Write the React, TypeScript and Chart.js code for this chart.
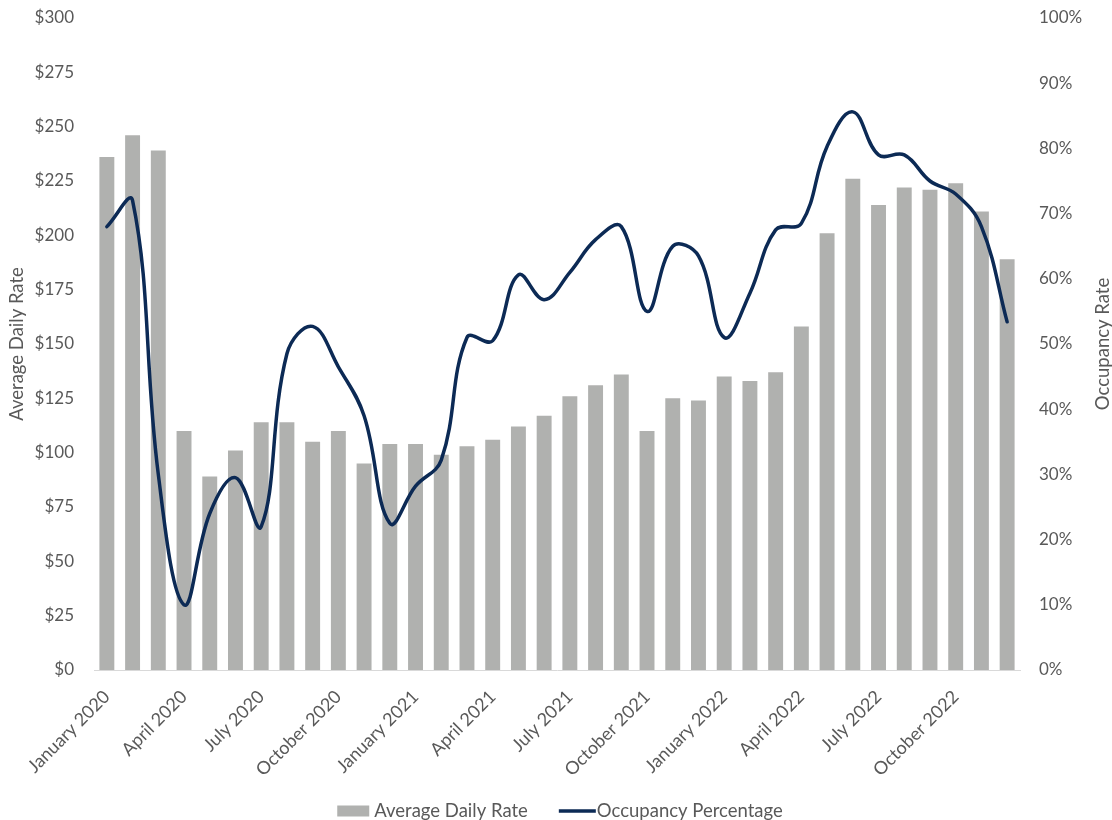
import React, { useEffect, useRef } from 'react';
import { Chart, registerables } from 'chart.js';

Chart.register(...registerables);

const CATEGORIES = [
  'January 2020', 'February 2020', 'March 2020', 'April 2020', 'May 2020', 'June 2020',
  'July 2020', 'August 2020', 'September 2020', 'October 2020', 'November 2020', 'December 2020',
  'January 2021', 'February 2021', 'March 2021', 'April 2021', 'May 2021', 'June 2021',
  'July 2021', 'August 2021', 'September 2021', 'October 2021', 'November 2021', 'December 2021',
  'January 2022', 'February 2022', 'March 2022', 'April 2022', 'May 2022', 'June 2022',
  'July 2022', 'August 2022', 'September 2022', 'October 2022', 'November 2022', 'December 2022',
];

const AVERAGE_DAILY_RATE = [
  236, 246, 239, 110, 89, 101, 114, 114, 105, 110, 95, 104,
  104, 99, 103, 106, 112, 117, 126, 131, 136, 110, 125, 124,
  135, 133, 137, 158, 201, 226, 214, 222, 221, 224, 211, 189,
];

const OCCUPANCY_PERCENTAGE = [
  68, 72, 30, 10, 24, 29.5, 22, 48.5, 52.7, 46.5, 39, 22.5,
  28.2, 32.2, 51, 50.5, 60.6, 56.8, 61, 66, 68, 55, 65, 63.5,
  51, 57.8, 67.5, 68.5, 80.3, 85.6, 79, 79, 75, 73, 68, 53.4,
];

const ADR_AXIS = { min: 0, max: 300, step: 25 };
const OCC_AXIS = { min: 0, max: 100, step: 10 };

const LEFT_TITLE = 'Average Daily Rate';
const RIGHT_TITLE = 'Occupancy Rate';
const BAR_LABEL = 'Average Daily Rate';
const LINE_LABEL = 'Occupancy Percentage';

const FONT = "Lato, 'Open Sans', 'Noto Sans', sans-serif";
const TEXT_COLOR = '#595959';
const BAR_COLOR = '#b0b1af';
const LINE_COLOR = '#0c2a55';

export default function App() {
  const canvasRef = useRef<HTMLCanvasElement | null>(null);

  useEffect(() => {
    document.body.style.margin = '0';
    document.body.style.overflow = 'hidden';
    const canvas = canvasRef.current;
    if (!canvas) return;

    const rightTitlePlugin = {
      id: 'rightTitle',
      afterDraw(chart: any) {
        const { ctx, chartArea } = chart;
        ctx.save();
        ctx.font = `18.5px ${FONT}`;
        ctx.fillStyle = TEXT_COLOR;
        ctx.textAlign = 'center';
        ctx.textBaseline = 'middle';
        ctx.translate(1103, (chartArea.top + chartArea.bottom) / 2);
        ctx.rotate(-Math.PI / 2);
        ctx.fillText(RIGHT_TITLE, 0, 0);
        ctx.restore();
      },
    };

    const legendPlugin = {
      id: 'bottomLegend',
      afterDraw(chart: any) {
        const { ctx } = chart;
        ctx.save();
        ctx.font = `18.5px ${FONT}`;
        ctx.textBaseline = 'middle';
        ctx.textAlign = 'left';
        const items = chart.data.datasets.map((ds: any) => {
          const isLine = ds.type === 'line';
          const symW = isLine ? 37 : 32;
          const gap = isLine ? 1 : 5;
          const textW = ctx.measureText(ds.label).width;
          return { ds, isLine, symW, gap, textW, w: symW + gap + textW };
        });
        const itemGap = 31;
        const total = items.reduce((s: number, it: any) => s + it.w, 0) + itemGap * (items.length - 1);
        let x = chart.width / 2 + 4 - total / 2;
        const y = 811;
        items.forEach((it: any) => {
          if (it.isLine) {
            ctx.strokeStyle = it.ds.borderColor;
            ctx.lineWidth = 3.5;
            ctx.beginPath();
            ctx.moveTo(x, y);
            ctx.lineTo(x + it.symW, y);
            ctx.stroke();
          } else {
            ctx.fillStyle = it.ds.backgroundColor;
            ctx.fillRect(x, y - 5.5, it.symW, 11);
          }
          x += it.symW + it.gap;
          ctx.fillStyle = TEXT_COLOR;
          ctx.fillText(it.ds.label, x, y);
          x += it.textW + itemGap;
        });
        ctx.restore();
      },
    };

    const chart = new Chart(canvas, {
      type: 'bar',
      data: {
        labels: CATEGORIES,
        datasets: [
          {
            type: 'bar',
            label: BAR_LABEL,
            data: AVERAGE_DAILY_RATE,
            yAxisID: 'y',
            backgroundColor: BAR_COLOR,
            borderWidth: 0,
            barPercentage: 0.58,
            categoryPercentage: 1.0,
            order: 1,
          } as any,
          {
            type: 'line',
            label: LINE_LABEL,
            data: OCCUPANCY_PERCENTAGE,
            yAxisID: 'y1',
            borderColor: LINE_COLOR,
            backgroundColor: LINE_COLOR,
            borderWidth: 3.5,
            pointRadius: 0,
            tension: 0.4,
            fill: false,
            borderCapStyle: 'round',
            order: 0,
          } as any,
        ],
      },
      options: {
        responsive: false,
        animation: false,
        devicePixelRatio: 1,
        layout: { padding: { top: 18, left: 0, right: 0, bottom: 0 } },
        plugins: {
          legend: { display: false },
          tooltip: { enabled: false },
        },
        scales: {
          x: {
            type: 'category',
            offset: true,
            grid: { display: false, drawTicks: false },
            border: { display: true, color: '#d9d9d9', width: 1 },
            ticks: {
              autoSkip: false,
              maxRotation: 45,
              minRotation: 45,
              color: TEXT_COLOR,
              font: { family: FONT, size: 18 },
              padding: 16,
              callback: (_v: any, i: number) => (i % 3 === 0 ? CATEGORIES[i] : ''),
            },
            afterFit: (s: any) => {
              s.height = 150;
            },
          },
          y: {
            type: 'linear',
            position: 'left',
            min: ADR_AXIS.min,
            max: ADR_AXIS.max,
            grid: { display: false, drawTicks: false },
            border: { display: false },
            ticks: {
              stepSize: ADR_AXIS.step,
              color: TEXT_COLOR,
              font: { family: FONT, size: 17 },
              padding: 20,
              callback: (v: any) => '$' + v,
            },
            title: {
              display: true,
              text: LEFT_TITLE,
              color: TEXT_COLOR,
              font: { family: FONT, size: 18.5 },
              padding: { top: 6, bottom: 0 },
            },
            afterFit: (s: any) => {
              s.width = 94;
              s.paddingTop = 0;
              s.paddingBottom = 0;
            },
          },
          y1: {
            type: 'linear',
            position: 'right',
            min: OCC_AXIS.min,
            max: OCC_AXIS.max,
            grid: { display: false, drawTicks: false },
            border: { display: false },
            ticks: {
              stepSize: OCC_AXIS.step,
              color: TEXT_COLOR,
              font: { family: FONT, size: 17 },
              padding: 19,
              callback: (v: any) => v + '%',
            },
            afterFit: (s: any) => {
              s.width = 92;
              s.paddingTop = 0;
              s.paddingBottom = 0;
            },
          },
        },
      } as any,
      plugins: [rightTitlePlugin, legendPlugin],
    });

    return () => {
      chart.destroy();
    };
  }, []);

  return (
    <div style={{ width: 1112, height: 820 }}>
      <canvas ref={canvasRef} width={1112} height={820} style={{ display: 'block' }} />
    </div>
  );
}
